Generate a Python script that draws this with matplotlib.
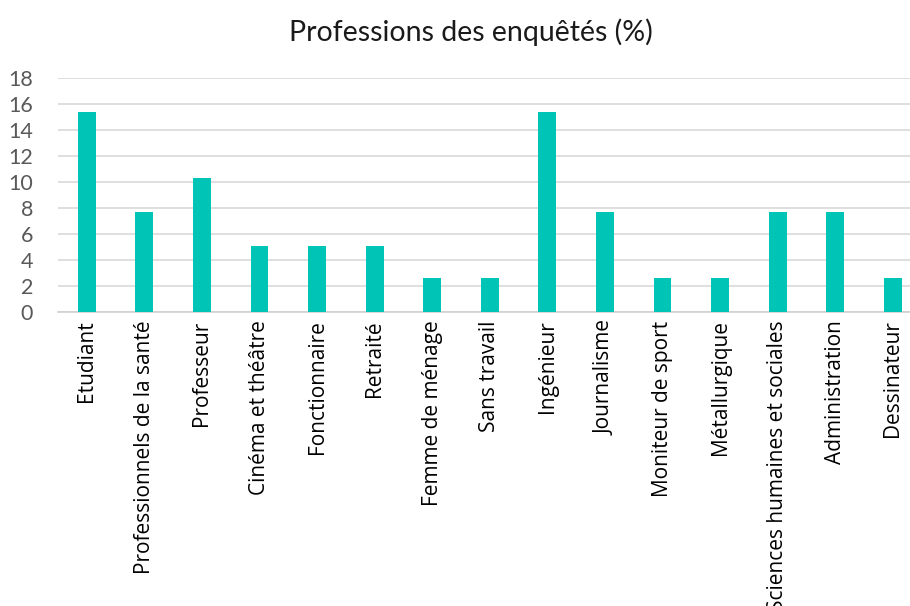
import matplotlib
matplotlib.use('Agg')
import numpy as np
from matplotlib import pyplot as plt

professions = [
    'Etudiant', 'Professionnels de la santé', 'Professeur', 'Cinéma et théâtre',
    'Fonctionnaire', 'Retraité', 'Femme de ménage', 'Sans travail', 'Ingénieur',
    'Journalisme', 'Moniteur de sport', 'Métallurgique',
    'Sciences humaines et sociales', 'Administration', 'Dessinateur',
]
pourcentages = [15.4, 7.7, 10.3, 5.1, 5.1, 5.1, 2.6, 2.6, 15.4, 7.7, 2.6, 2.6, 7.7, 7.7, 2.6]
y_ticks = [0, 2, 4, 6, 8, 10, 12, 14, 16, 18]

BAR_COLOR = '#00C4B6'
GRID_COLOR = '#D9D9D9'

fig = plt.figure(figsize=(9.1, 6.06), dpi=100)
ax = fig.add_axes([0.0637, 0.485, 0.949, 0.386])

x = np.arange(len(professions))
ax.bar(x, pourcentages, width=0.31, color=BAR_COLOR, zorder=3)

ax.set_xlim(-0.5, len(professions) - 0.5)
ax.set_ylim(0, 18)
ax.set_yticks(y_ticks)
ax.set_yticklabels([str(t) for t in y_ticks], fontsize=15.5, color='#595959', family=['Lato', 'DejaVu Sans'])
ax.set_xticks(x)
ax.set_xticklabels(professions, rotation=90, fontsize=15, color='black', family=['Open Sans', 'DejaVu Sans'])

ax.grid(axis='y', color=GRID_COLOR, linewidth=1.2, zorder=0)
for side in ('top', 'right', 'left'):
    ax.spines[side].set_visible(False)
ax.spines['bottom'].set_color('#D0D0D0')
ax.spines['bottom'].set_linewidth(1.2)
ax.tick_params(axis='both', length=0)
ax.tick_params(axis='y', pad=18)
ax.tick_params(axis='x', pad=6)

fig.text(0.517, 0.947, 'Professions des enquêtés (%)', ha='center', va='center',
         fontsize=20.5, color='#1a1a1a', family=['Lato', 'DejaVu Sans'])

fig.savefig('out.png', dpi=100)
